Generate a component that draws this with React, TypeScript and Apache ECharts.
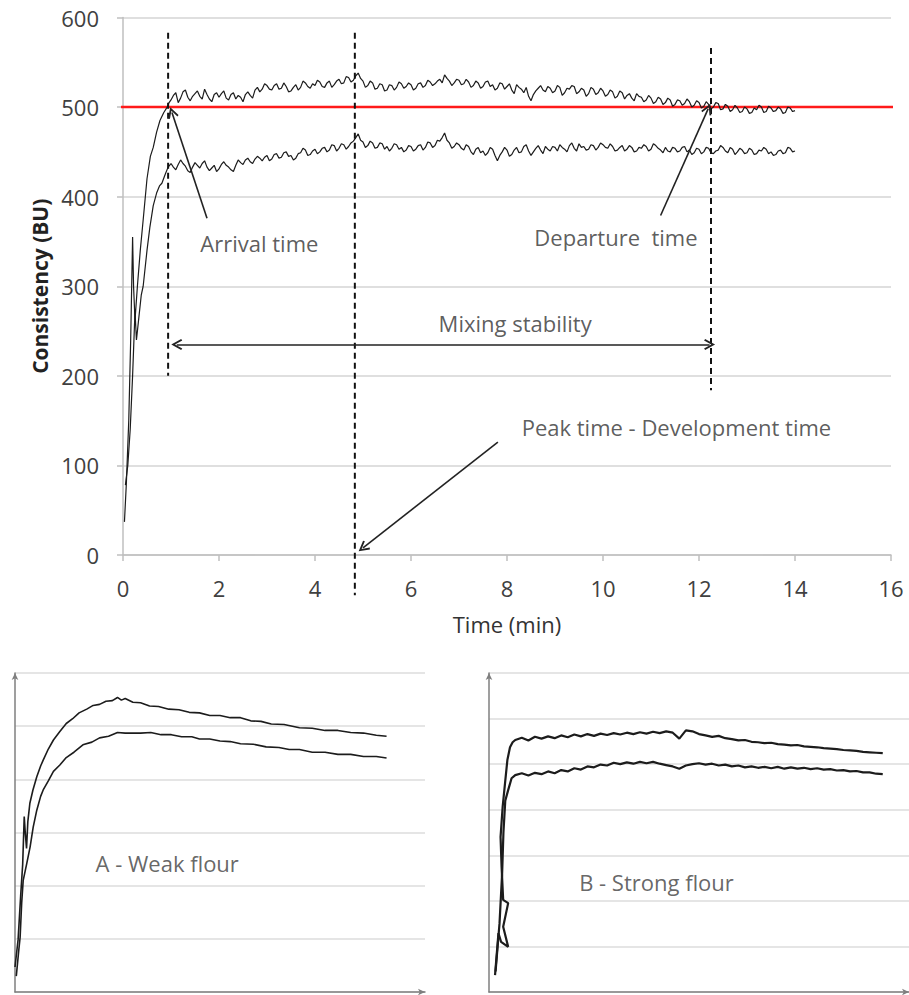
import React, { useEffect, useRef } from "react";
import * as echarts from "echarts";

const FONT = "'Open Sans', 'Liberation Sans', sans-serif";

// ---------- main farinograph (time in min, consistency in BU) ----------
const upperEarly: [number, number][] = [
  [0.03, 37], [0.07, 80], [0.12, 150], [0.16, 240], [0.2, 355], [0.22, 300], [0.25, 262],
  [0.3, 300], [0.36, 340], [0.42, 374], [0.5, 420], [0.57, 445], [0.63, 455], [0.7, 472],
  [0.77, 485], [0.85, 494], [0.92, 500], [0.96, 505],
];
const lowerEarly: [number, number][] = [
  [0.05, 78], [0.1, 100], [0.15, 140], [0.2, 200], [0.25, 272], [0.28, 240], [0.32, 260],
  [0.38, 290], [0.42, 300], [0.5, 340], [0.56, 366], [0.63, 390], [0.7, 404], [0.76, 412],
  [0.81, 415], [0.88, 425], [0.94, 433],
];
const sampleStart = 1.0;
const sampleStep = 0.05;
const upperValues = [
  508, 513, 516, 505, 510, 517, 519, 511, 507, 512, 515, 518, 512, 509, 520, 514, 509, 506, 514, 516,
  511, 515, 518, 510, 508, 514, 516, 509, 513, 511, 506, 514, 517, 513, 510, 519, 522, 517, 520, 526,
  524, 520, 519, 524, 526, 520, 521, 527, 523, 517, 518, 522, 525, 519, 522, 529, 527, 523, 521, 526,
  524, 530, 528, 523, 522, 527, 529, 522, 525, 529, 531, 526, 527, 534, 533, 528, 530, 535, 538, 532,
  529, 522, 524, 529, 527, 520, 521, 526, 525, 518, 519, 525, 524, 519, 522, 528, 526, 521, 523, 527,
  525, 519, 521, 526, 527, 522, 524, 530, 528, 524, 526, 529, 531, 527, 536, 532, 529, 524, 527, 531,
  530, 525, 526, 531, 528, 522, 524, 529, 527, 521, 523, 528, 529, 523, 525, 519, 521, 527, 526, 520,
  523, 526, 519, 515, 525, 522, 520, 516, 522, 512, 507, 514, 518, 521, 524, 519, 517, 523, 521, 516,
  518, 524, 522, 513, 516, 521, 520, 524, 523, 515, 517, 521, 519, 512, 515, 522, 520, 514, 516, 521,
  518, 512, 514, 519, 517, 510, 512, 518, 516, 509, 513, 515, 510, 507, 515, 512, 511, 506, 508, 513,
  510, 504, 506, 511, 509, 503, 505, 510, 508, 501, 503, 508, 507, 502, 504, 509, 506, 500, 502, 507,
  505, 499, 501, 506, 503, 498, 500, 505, 504, 497, 498, 503, 501, 495, 497, 502, 499, 494, 495, 500,
  498, 493, 494, 499, 497, 502, 500, 494, 495, 501, 499, 495, 496, 500, 498, 493, 494, 500, 499, 495,
  496,
];
const lowerValues = [
  437, 433, 430, 436, 441, 437, 434, 429, 427, 433, 438, 435, 432, 437, 440, 433, 429, 432, 435, 428,
  431, 436, 439, 435, 433, 430, 428, 435, 441, 438, 436, 441, 443, 439, 437, 442, 445, 443, 440, 444,
  446, 440, 442, 447, 448, 443, 444, 449, 450, 445, 446, 441, 443, 448, 449, 454, 452, 446, 447, 451,
  453, 448, 450, 454, 455, 450, 452, 458, 457, 451, 454, 459, 458, 453, 456, 460, 462, 466, 470, 463,
  461, 455, 457, 462, 460, 454, 455, 460, 459, 453, 456, 451, 454, 459, 458, 453, 455, 450, 452, 457,
  456, 451, 453, 457, 458, 452, 455, 461, 460, 455, 457, 463, 462, 466, 471, 463, 460, 454, 456, 460,
  458, 454, 452, 458, 456, 450, 447, 453, 455, 449, 451, 446, 449, 455, 453, 446, 440, 446, 450, 455,
  452, 445, 447, 452, 455, 449, 450, 456, 458, 451, 446, 450, 454, 457, 452, 448, 456, 453, 451, 456,
  455, 451, 458, 455, 453, 450, 457, 460, 454, 451, 459, 455, 456, 452, 453, 458, 457, 452, 455, 460,
  458, 455, 454, 459, 456, 451, 452, 455, 457, 451, 453, 457, 455, 450, 451, 455, 454, 458, 456, 451,
  453, 459, 457, 454, 452, 449, 455, 451, 450, 455, 454, 450, 451, 455, 456, 450, 452, 447, 449, 454,
  453, 448, 450, 455, 454, 449, 448, 451, 452, 457, 455, 451, 449, 455, 453, 447, 450, 454, 452, 448,
  449, 454, 452, 447, 448, 452, 451, 455, 453, 448, 450, 446, 447, 451, 452, 448, 449, 455, 454, 450,
  451,
];
const targetLine: [number, number][] = [[-0.44, 500], [16.23, 500]];
const arrivalDash: [number, number][] = [[0.94, 583], [0.94, 200]];
const peakDash: [number, number][] = [[4.83, 583], [4.83, -45]];
const departureDash: [number, number][] = [[12.25, 566], [12.25, 184]];
const arrivalArrow: [number, number][] = [[1.75, 376], [1.02, 494]];
const departureArrow: [number, number][] = [[11.2, 379], [12.19, 498]];
const peakArrow: [number, number][] = [[7.81, 126], [5.0, 8]];
const stabilityArrow: [number, number][] = [[1.12, 235], [12.22, 235]];
const noteTexts = ["Arrival time", "Departure  time", "Mixing stability", "Peak time - Development time"];
const noteT = [2.84, 10.27, 8.17, 11.53];
const noteV = [348, 355, 259, 143];

// ---------- panel A : weak flour ----------
const weakUpper: [number, number][] = [
  [0, 47], [0.12, 98], [0.22, 180], [0.3, 240], [0.36, 330], [0.4, 300], [0.45, 270], [0.5, 320],
  [0.58, 355], [0.7, 380], [0.85, 405], [1.0, 425], [1.1, 436], [1.3, 457], [1.5, 474], [1.75, 490],
  [2.0, 505], [2.25, 514], [2.5, 525], [2.8, 532], [3.05, 539], [3.3, 541], [3.55, 547], [3.8, 548],
  [4.0, 554], [4.15, 549], [4.3, 552], [4.6, 545], [4.9, 544], [5.25, 538], [5.6, 537], [6.0, 532],
  [6.4, 531], [6.8, 526], [7.2, 525], [7.6, 520], [8.0, 520], [8.4, 516], [8.8, 516], [9.2, 510],
  [9.6, 509], [10.0, 504], [10.5, 503], [11.1, 497], [11.6, 496], [12.1, 492], [12.6, 492],
  [13.1, 488], [13.6, 487], [14.1, 483], [14.5, 481],
];
const weakLower: [number, number][] = [
  [0.05, 30], [0.15, 80], [0.2, 103], [0.26, 167], [0.32, 210], [0.46, 242], [0.59, 273],
  [0.71, 310], [0.85, 342], [1.0, 368], [1.1, 380], [1.3, 397], [1.5, 415], [1.75, 427], [2.0, 441],
  [2.3, 451], [2.65, 465], [3.0, 470], [3.3, 478], [3.65, 481], [4.0, 488], [4.3, 487], [4.6, 487],
  [4.9, 487], [5.3, 488], [5.7, 484], [6.1, 484], [6.5, 480], [6.9, 480], [7.2, 476], [7.6, 476],
  [8.0, 472], [8.4, 471], [8.8, 467], [9.3, 466], [9.8, 461], [10.3, 460], [10.7, 456], [11.1, 456],
  [11.6, 451], [12.1, 451], [12.6, 447], [13.1, 447], [13.6, 443], [14.1, 443], [14.5, 440],
];

// ---------- panel B : strong flour ----------
const strongUpperEarly: [number, number][] = [
  [0.23, 37], [0.36, 129], [0.46, 110], [0.73, 99], [0.54, 143], [0.73, 195], [0.54, 202],
  [0.48, 274], [0.44, 340], [0.52, 406], [0.61, 458], [0.7, 509], [0.8, 537], [0.9, 548],
];
const strongLowerEarly: [number, number][] = [
  [0.25, 45], [0.4, 150], [0.5, 260], [0.55, 350], [0.62, 420], [0.73, 443], [0.86, 469],
];
const strongStart = 1.0;
const strongStep = 0.25;
const strongUpperValues = [
  553, 558, 552, 560, 556, 561, 557, 563, 559, 565, 561, 566, 562, 567, 564, 568,
  565, 569, 566, 570, 567, 571, 568, 572, 569, 556, 574, 572, 566, 563, 560, 562,
  557, 555, 552, 553, 549, 548, 546, 547, 544, 543, 541, 542, 539, 538, 537, 535,
  534, 533, 531, 530, 529, 527, 526, 525, 524,
];
const strongLowerValues = [
  476, 480, 475, 481, 478, 484, 480, 487, 484, 491, 488, 495, 493, 499, 497, 503,
  500, 504, 501, 505, 502, 505, 501, 498, 495, 490, 497, 500, 502, 499, 501, 497,
  499, 495, 497, 493, 495, 492, 494, 491, 494, 490, 493, 490, 492, 489, 491, 488,
  489, 486, 487, 484, 485, 482, 482, 479, 478,
];
const panelTexts = ["A - Weak flour", "B - Strong flour"];
const panelT = [5.94, 6.38];
const panelV = [242, 241];

function sampled(early: [number, number][], values: number[], t0: number, step: number) {
  return [
    ...early,
    ...values.map((v, i) => [Math.round((t0 + i * step) * 1000) / 1000, v]),
  ];
}

const CHEVRON = "path://M5,0L10,9L8.6,10L5,3.4L1.4,10L0,9Z";

export default function App() {
  const ref = useRef<HTMLDivElement>(null);
  useEffect(() => {
    if (!ref.current) return;
    const chart = echarts.init(ref.current, null, { renderer: "svg" });
    const curve = (data: any, xi: number, w = 1.3) => ({
      type: "line",
      xAxisIndex: xi,
      yAxisIndex: xi,
      data,
      symbol: "none",
      showSymbol: false,
      clip: false,
      silent: true,
      z: 4,
      lineStyle: { color: "#1c1c1c", width: w },
    });
    const dash = (data: any) => ({
      type: "line",
      xAxisIndex: 0,
      yAxisIndex: 0,
      data,
      symbol: "none",
      clip: false,
      silent: true,
      z: 5,
      lineStyle: { color: "#111", width: 2, type: [6, 4] },
    });
    const arrow = (data: any, both = false) => ({
      type: "lines",
      coordinateSystem: "cartesian2d",
      xAxisIndex: 0,
      yAxisIndex: 0,
      silent: true,
      z: 6,
      symbol: both ? [CHEVRON, CHEVRON] : ["none", CHEVRON],
      symbolSize: 11,
      lineStyle: { color: "#222", width: 1.6, opacity: 1 },
      data: [{ coords: data }],
    });
    const labels = (texts: string[], ts: number[], vs: number[], xi: number, color: string, size: number) => ({
      type: "scatter",
      xAxisIndex: xi,
      yAxisIndex: xi,
      symbolSize: 0,
      silent: true,
      z: 7,
      data: texts.map((t, i) => ({ value: [ts[i], vs[i]], label: { formatter: t } })),
      label: {
        show: true,
        position: "inside",
        align: "center",
        verticalAlign: "middle",
        color,
        fontSize: size,
        fontFamily: FONT,
      },
    });
    const axisGrey = "#bfbfbf";
    const smallAxis = (max: number, withSplit: boolean, interval: number) => ({
      type: "value",
      min: 0,
      max,
      interval,
      axisLine: {
        show: true,
        lineStyle: { color: "#7f7f7f", width: 1.5 },
        symbol: ["none", "arrow"],
        symbolSize: [5, 7],
      },
      axisTick: { show: false },
      axisLabel: { show: false },
      splitLine: { show: withSplit, lineStyle: { color: "#dcdcdc", width: 1.5 } },
    });

    chart.setOption({
      animation: false,
      backgroundColor: "#ffffff",
      grid: [
        { left: 123, top: 17.5, width: 768, height: 537.5 },
        { left: 15, top: 673, width: 410, height: 319 },
        { left: 489, top: 673, width: 420, height: 319 },
      ],
      xAxis: [
        {
          type: "value",
          gridIndex: 0,
          min: 0,
          max: 16,
          interval: 2,
          name: "Time (min)",
          nameLocation: "middle",
          nameGap: 58,
          nameTextStyle: { fontFamily: FONT, fontSize: 22, color: "#333" },
          axisLine: { show: true, lineStyle: { color: axisGrey, width: 1.5 } },
          axisTick: { show: true, length: 6, lineStyle: { color: axisGrey, width: 1.5 } },
          axisLabel: { margin: 22, fontFamily: FONT, fontSize: 22, color: "#404040" },
          splitLine: { show: false },
        },
        { ...smallAxis(16, false, 2), gridIndex: 1 },
        { ...smallAxis(16, false, 2), gridIndex: 2 },
      ],
      yAxis: [
        {
          type: "value",
          gridIndex: 0,
          min: 0,
          max: 600,
          interval: 100,
          name: "Consistency (BU)",
          nameLocation: "middle",
          nameGap: 72,
          nameTextStyle: { fontFamily: FONT, fontSize: 21, fontWeight: "bold", color: "#222" },
          axisLine: { show: true, lineStyle: { color: axisGrey, width: 1.5 } },
          axisTick: { show: true, length: 6, lineStyle: { color: axisGrey, width: 1.5 } },
          axisLabel: { margin: 24, fontFamily: FONT, fontSize: 22, color: "#404040" },
          splitLine: { show: true, lineStyle: { color: "#d4d4d4", width: 1.5 } },
        },
        { ...smallAxis(600, true, 100), gridIndex: 1 },
        { ...smallAxis(700, true, 100), gridIndex: 2 },
      ],
      series: [
        {
          type: "line",
          xAxisIndex: 0,
          yAxisIndex: 0,
          data: targetLine,
          symbol: "none",
          clip: false,
          silent: true,
          z: 3,
          lineStyle: { color: "#ff1a1a", width: 2.5 },
        },
        curve(sampled(upperEarly, upperValues, sampleStart, sampleStep), 0, 1.2),
        curve(sampled(lowerEarly, lowerValues, sampleStart, sampleStep), 0, 1.2),
        dash(arrivalDash),
        dash(peakDash),
        dash(departureDash),
        arrow(arrivalArrow),
        arrow(departureArrow),
        arrow(peakArrow),
        arrow(stabilityArrow, true),
        labels(noteTexts, noteT, noteV, 0, "#333", 22),
        curve(weakUpper, 1, 1.6),
        curve(weakLower, 1, 1.6),
        labels([panelTexts[0]], [panelT[0]], [panelV[0]], 1, "#404040", 22),
        curve(sampled(strongUpperEarly, strongUpperValues, strongStart, strongStep), 2, 2.2),
        curve(sampled(strongLowerEarly, strongLowerValues, strongStart, strongStep), 2, 2.2),
        labels([panelTexts[1]], [panelT[1]], [panelV[1]], 2, "#404040", 22),
      ],
    });
    return () => chart.dispose();
  }, []);
  return (
    <div
      ref={ref}
      style={{ position: "absolute", left: 0, top: 0, width: 909, height: 995, background: "#fff" }}
    />
  );
}
